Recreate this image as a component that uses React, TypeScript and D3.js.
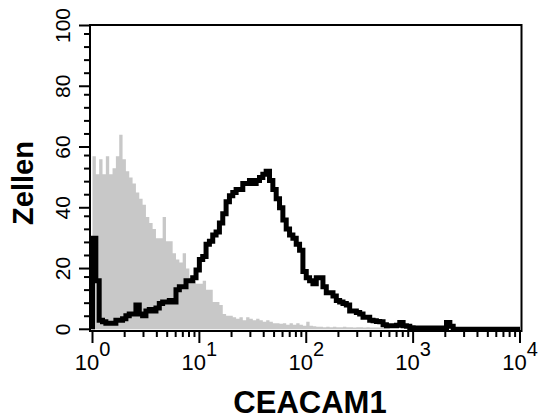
import React from "react";
import * as d3 from "d3";

// ---- data (histogram counts per channel; 32 channels per decade) ----
const channelsPerDecade = 32;
const controlCounts = [
  57, 51, 56, 51, 57, 51, 53, 57, 64, 56,
  52, 50, 48, 45, 43, 41, 37, 35, 33, 30,
  30, 37, 29, 29, 25, 23, 22, 25, 20, 17,
  16, 15, 15, 16, 13, 13, 9, 9, 8, 5,
  4.5, 4.5, 4, 3.5, 4, 3, 4, 3.5, 3, 3.5,
  3, 2.5, 3, 2.5, 2, 2, 1.8, 2, 1.5, 2,
  1.5, 2, 1.5, 1.2, 2.5, 1.2, 1, 0.8, 0.8, 0.7,
  0.8, 0.7, 0.8, 0.7, 0.7, 0.8, 0.7, 0.7, 0.6, 0.7,
  0.7, 0.6, 0.7, 0.6, 0.6, 0.6, 0.5, 0.5, 0.5,
];
const ceacamCounts = [
  30, 16, 3, 2.5, 2, 2, 2, 3, 3, 3.5,
  4.5, 5, 5, 8, 5, 4.5, 6, 6.5, 6, 7,
  8.5, 9, 9, 9.5, 9, 13, 14, 14, 16, 16,
  17, 19.5, 23, 24, 28, 29, 31, 32, 35, 38,
  42, 44, 45, 46, 46, 48, 48, 49, 48, 49,
  50, 51, 52, 49, 46, 43, 40, 36, 33, 31,
  30, 28, 26, 19, 17, 16, 15, 17, 17, 14,
  12, 12, 11, 9.5, 9, 8.5, 8, 6, 6, 5.5,
  5, 4, 4, 3, 2.8, 2.6, 2.5, 1.5, 1.2, 1.2,
  1.2, 1.3, 2.2, 1.2, 1, 0.5, 0.4, 0.4, 0.4, 0.4,
  0.4, 0.4, 0.4, 0.4, 0.4, 0.4, 2.2, 1, 0, 0,
  0, 0, 0, 0, 0, 0, 0, 0, 0, 0,
  0, 0, 0, 0, 0, 0, 0, 0,
];
const yMajorTicks = [0, 20, 40, 60, 80, 100];
const yMinorOffsets = [4.3, 8.6, 12.9, 17.2];
const xDecades = [0, 1, 2, 3, 4];
const xMinorMultipliers = [2, 3, 4, 5, 6, 7, 8, 9];
const xAxisTitle = "CEACAM1";
const yAxisTitle = "Zellen";

const W = 538;
const H = 419;

type Pt = { v: number; c: number };

function toPoints(counts: number[]): Pt[] {
  const pts: Pt[] = counts.map((c, i) => ({ v: Math.pow(10, i / channelsPerDecade), c }));
  pts.push({ v: Math.pow(10, counts.length / channelsPerDecade), c: counts[counts.length - 1] });
  return pts;
}

export default function App() {
  const x = d3.scaleLog().domain([1, 1e4]).range([92.5, 520]);
  const y = d3.scaleLinear().domain([0, 100]).range([329.3, 25.5]);

  const frame = { left: 90, top: 25, right: 521.5, bottom: 331 };

  const area = d3
    .area<Pt>()
    .curve(d3.curveStepAfter)
    .x((d) => x(d.v))
    .y0(y(0))
    .y1((d) => y(d.c));

  const line = d3
    .line<Pt>()
    .curve(d3.curveStepAfter)
    .x((d) => x(d.v))
    .y((d) => y(d.c));

  const grayPts = toPoints(controlCounts);
  const blackPts = [{ v: 1, c: 0 }, ...toPoints(ceacamCounts)];

  const yMinor: number[] = [];
  yMajorTicks.slice(0, -1).forEach((t) => yMinorOffsets.forEach((o) => yMinor.push(t + o)));

  const xMinor: number[] = [];
  xDecades.slice(0, -1).forEach((d) =>
    xMinorMultipliers.forEach((m) => xMinor.push(m * Math.pow(10, d)))
  );

  const font = "'Liberation Sans', Arial, Helvetica, sans-serif";

  return (
    <div style={{ position: "fixed", left: 0, top: 0, width: W, height: H, background: "#fff" }}>
      <svg width={W} height={H} style={{ display: "block" }}>
        <rect x={0} y={0} width={W} height={H} fill="#fff" />
        <path d={area(grayPts) || ""} fill="#c8c8c8" stroke="none" />
        <path
          d={line(blackPts) || ""}
          fill="none"
          stroke="#000"
          strokeWidth={5}
          strokeLinejoin="miter"
        />
        {/* frame */}
        <rect
          x={frame.left}
          y={frame.top}
          width={frame.right - frame.left}
          height={frame.bottom - frame.top}
          fill="none"
          stroke="#000"
          strokeWidth={2}
        />
        {/* y ticks */}
        {yMajorTicks.map((t) => (
          <line key={"ym" + t} x1={79} x2={frame.left} y1={y(t)} y2={y(t)} stroke="#000" strokeWidth={2} />
        ))}
        {yMinor.map((t) => (
          <line key={"yn" + t} x1={84} x2={frame.left} y1={y(t)} y2={y(t)} stroke="#000" strokeWidth={2} />
        ))}
        {yMajorTicks.map((t) => (
          <text
            key={"yl" + t}
            transform={`translate(70,${y(t)}) rotate(-90)`}
            textAnchor="middle"
            fontFamily={font}
            fontSize={21}
            fill="#000"
          >
            {t}
          </text>
        ))}
        {/* x ticks */}
        {xDecades.map((d) => (
          <line
            key={"xm" + d}
            x1={x(Math.pow(10, d))}
            x2={x(Math.pow(10, d))}
            y1={frame.bottom}
            y2={343}
            stroke="#000"
            strokeWidth={2}
          />
        ))}
        {xMinor.map((v) => (
          <line key={"xn" + v} x1={x(v)} x2={x(v)} y1={frame.bottom} y2={337} stroke="#000" strokeWidth={2} />
        ))}
        {xDecades.map((d) => (
          <text
            key={"xl" + d}
            x={x(Math.pow(10, d))}
            y={370}
            textAnchor="middle"
            fontFamily={font}
            fill="#000"
          >
            <tspan fontSize={22}>10</tspan>
            <tspan fontSize={20} dy={-14}>
              {d}
            </tspan>
          </text>
        ))}
        {/* axis titles */}
        <text
          x={310}
          y={413}
          textAnchor="middle"
          fontFamily={font}
          fontWeight="bold"
          fontSize={31}
          fill="#000"
        >
          {xAxisTitle}
        </text>
        <text
          transform={`translate(33,183) rotate(-90)`}
          textAnchor="middle"
          fontFamily={font}
          fontWeight="bold"
          fontSize={29}
          fill="#000"
        >
          {yAxisTitle}
        </text>
      </svg>
    </div>
  );
}
